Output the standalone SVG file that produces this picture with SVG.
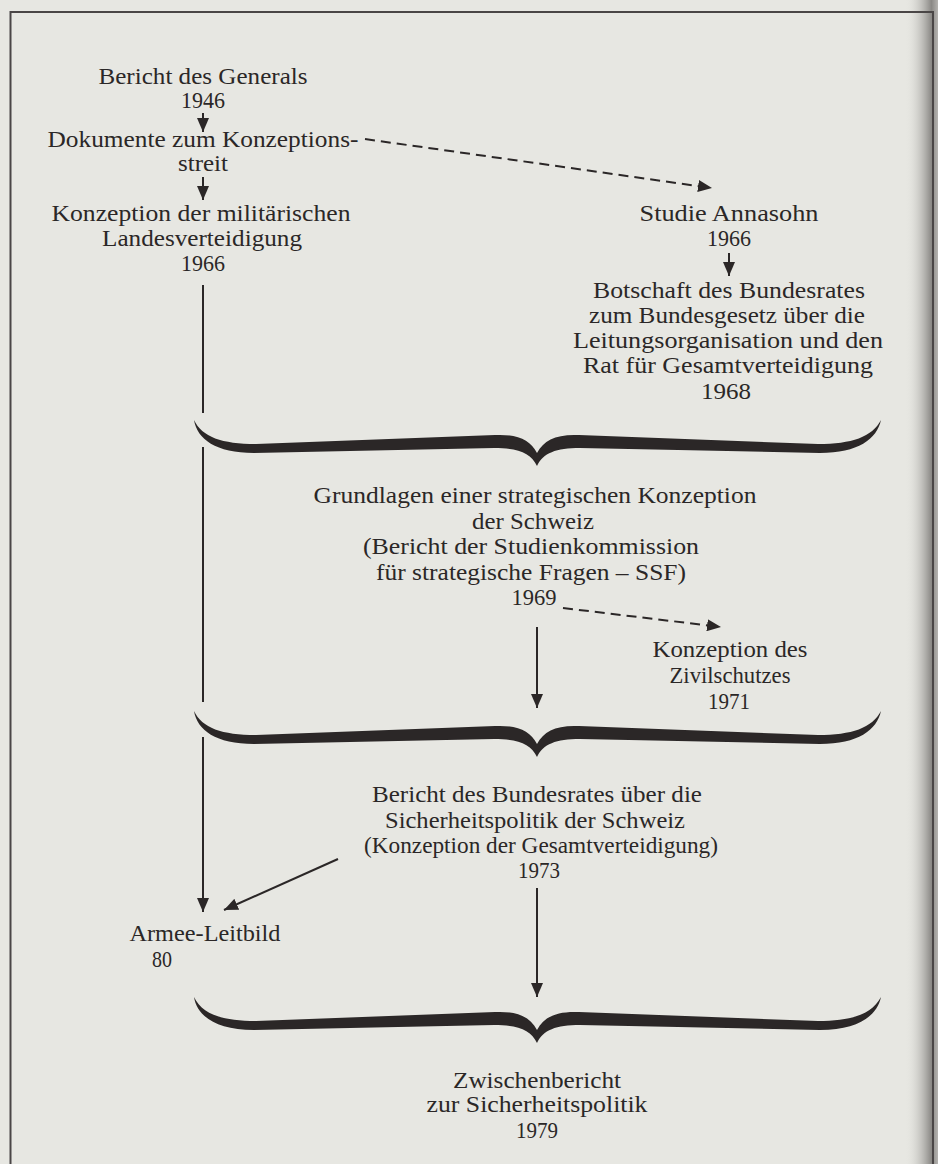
<svg xmlns="http://www.w3.org/2000/svg" width="938" height="1164" viewBox="0 0 938 1164">
<style>
text{font-family:"Liberation Serif","Times New Roman",serif;fill:#2b2727;text-anchor:middle}
.n{font-size:24px}
.w{font-size:23px}
.ln{stroke:#2b2727;stroke-width:2;fill:none}
.d{stroke-dasharray:10 6}
.fr{stroke:#4a4646;stroke-width:2;fill:none}
.br{fill:#2b2727}
</style>
<defs>
<marker id="ah" markerUnits="userSpaceOnUse" markerWidth="14" markerHeight="12" viewBox="0 0 14 12" refX="14" refY="6" orient="auto">
<path d="M0,0 L14,6 L0,12 Z" fill="#2b2727"/>
</marker>
<linearGradient id="sh" x1="0" y1="0" x2="1" y2="0">
<stop offset="0" stop-color="#e7e7e2" stop-opacity="0"/>
<stop offset="0.8" stop-color="#8a8885"/>
<stop offset="1" stop-color="#b5b3b0"/>
</linearGradient>
<path id="brace" d="M194,0 C202,17 222,24 256,24 L495,15 C518,14 530,20 537,33 C544,20 556,14 579,15 L818,24 C852,24 872,17 881,0 C877,19 858,33 820,33 L580,28 C556,28 543,33 537,46 C531,33 518,28 494,28 L254,33 C216,33 197,19 194,0 Z"/>
</defs>
<rect width="938" height="1164" fill="#e7e7e2"/>
<rect x="905" y="0" width="33" height="1164" fill="url(#sh)"/>
<g id="frame">
<path class="fr" d="M10.5,1164 V12 H933 V1164"/>
</g>
<g id="connectors">
<line class="ln" x1="203" y1="113" x2="203" y2="132" marker-end="url(#ah)"/>
<line class="ln" x1="203" y1="177" x2="203" y2="200" marker-end="url(#ah)"/>
<line class="ln d" x1="365" y1="139" x2="712" y2="188" marker-end="url(#ah)"/>
<line class="ln" x1="729" y1="253" x2="729" y2="276" marker-end="url(#ah)"/>
<line class="ln" x1="203" y1="285" x2="203" y2="413"/>
<line class="ln" x1="203" y1="447" x2="203" y2="702"/>
<line class="ln" x1="203" y1="737" x2="203" y2="912" marker-end="url(#ah)"/>
<line class="ln d" x1="563" y1="608" x2="721" y2="627" marker-end="url(#ah)"/>
<line class="ln" x1="537" y1="627" x2="537" y2="708" marker-end="url(#ah)"/>
<line class="ln" x1="338" y1="859" x2="224" y2="910" marker-end="url(#ah)"/>
<line class="ln" x1="537" y1="888" x2="537" y2="997" marker-end="url(#ah)"/>
<use href="#brace" class="br" transform="translate(0,420)"/>
<use href="#brace" class="br" transform="translate(0,711)"/>
<use href="#brace" class="br" transform="translate(0,997)"/>
</g>
<g id="n-bericht-generals">
<text class="n" x="203" y="84" textLength="209" lengthAdjust="spacingAndGlyphs">Bericht des Generals</text>
<text class="n" x="203" y="108" textLength="44" lengthAdjust="spacingAndGlyphs">1946</text>
</g>
<g id="n-dokumente">
<text class="n" x="203" y="147" textLength="311" lengthAdjust="spacingAndGlyphs">Dokumente zum Konzeptions-</text>
<text class="n" x="203" y="171" textLength="50" lengthAdjust="spacingAndGlyphs">streit</text>
</g>
<g id="n-konzeption-militaer">
<text class="n" x="201" y="221" textLength="299" lengthAdjust="spacingAndGlyphs">Konzeption der militärischen</text>
<text class="n" x="202" y="246" textLength="200" lengthAdjust="spacingAndGlyphs">Landesverteidigung</text>
<text class="n" x="203" y="271" textLength="44" lengthAdjust="spacingAndGlyphs">1966</text>
</g>
<g id="n-studie-annasohn">
<text class="n" x="729" y="221" textLength="179" lengthAdjust="spacingAndGlyphs">Studie Annasohn</text>
<text class="n" x="729" y="246" textLength="44" lengthAdjust="spacingAndGlyphs">1966</text>
</g>
<g id="n-botschaft">
<text class="w" x="729" y="298" textLength="272" lengthAdjust="spacingAndGlyphs">Botschaft des Bundesrates</text>
<text class="w" x="727" y="323" textLength="276" lengthAdjust="spacingAndGlyphs">zum Bundesgesetz über die</text>
<text class="w" x="728" y="348" textLength="310" lengthAdjust="spacingAndGlyphs">Leitungsorganisation und den</text>
<text class="w" x="728" y="373" textLength="290" lengthAdjust="spacingAndGlyphs">Rat für Gesamtverteidigung</text>
<text class="w" x="726" y="399" textLength="50" lengthAdjust="spacingAndGlyphs">1968</text>
</g>
<g id="n-grundlagen">
<text class="w" x="535" y="503" textLength="443" lengthAdjust="spacingAndGlyphs">Grundlagen einer strategischen Konzeption</text>
<text class="w" x="533" y="529" textLength="122" lengthAdjust="spacingAndGlyphs">der Schweiz</text>
<text class="w" x="531" y="554" textLength="336" lengthAdjust="spacingAndGlyphs">(Bericht der Studienkommission</text>
<text class="w" x="531" y="580" textLength="310" lengthAdjust="spacingAndGlyphs">für strategische Fragen – SSF)</text>
<text class="w" x="534" y="605" textLength="45" lengthAdjust="spacingAndGlyphs">1969</text>
</g>
<g id="n-zivilschutz">
<text class="w" x="730" y="657" textLength="155" lengthAdjust="spacingAndGlyphs">Konzeption des</text>
<text class="w" x="730" y="683" textLength="121" lengthAdjust="spacingAndGlyphs">Zivilschutzes</text>
<text class="w" x="729" y="709" textLength="42" lengthAdjust="spacingAndGlyphs">1971</text>
</g>
<g id="n-bericht-bundesrat">
<text class="w" x="537" y="802" textLength="330" lengthAdjust="spacingAndGlyphs">Bericht des Bundesrates über die</text>
<text class="w" x="535" y="828" textLength="300" lengthAdjust="spacingAndGlyphs">Sicherheitspolitik der Schweiz</text>
<text class="w" x="541" y="853" textLength="354" lengthAdjust="spacingAndGlyphs">(Konzeption der Gesamtverteidigung)</text>
<text class="w" x="539" y="878" textLength="42" lengthAdjust="spacingAndGlyphs">1973</text>
</g>
<g id="n-armee-leitbild">
<text class="n" x="205" y="941" textLength="151" lengthAdjust="spacingAndGlyphs">Armee-Leitbild</text>
<text class="n" x="162" y="967" textLength="20" lengthAdjust="spacingAndGlyphs">80</text>
</g>
<g id="n-zwischenbericht">
<text class="n" x="537" y="1088" textLength="168" lengthAdjust="spacingAndGlyphs">Zwischenbericht</text>
<text class="n" x="537" y="1112" textLength="221" lengthAdjust="spacingAndGlyphs">zur Sicherheitspolitik</text>
<text class="n" x="537" y="1138" textLength="42" lengthAdjust="spacingAndGlyphs">1979</text>
</g>
</svg>
